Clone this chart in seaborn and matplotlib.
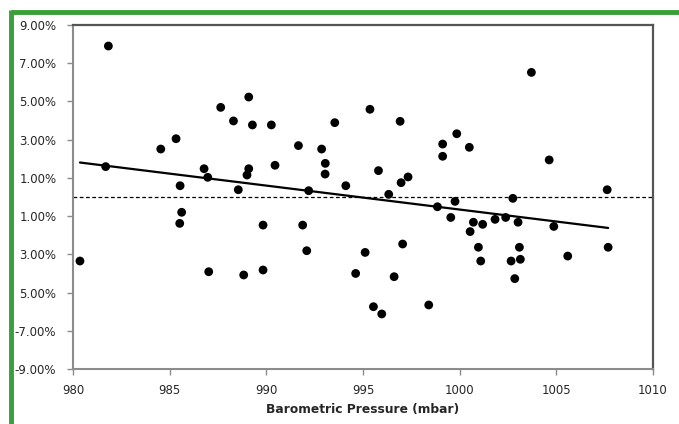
import matplotlib
matplotlib.use("Agg")
import matplotlib.pyplot as plt
import seaborn as sns
import pandas as pd
from matplotlib.lines import Line2D

pressure = [980.36, 981.69, 981.83, 984.54, 985.33, 985.54, 985.62, 985.52, 986.78, 986.97,
            987.02, 987.64, 988.30, 988.55, 988.83, 989.09, 989.28, 989.09, 989.00, 989.83,
            989.83, 990.26, 990.45, 991.66, 991.88, 992.09, 992.19, 992.86, 993.05, 993.04,
            993.54, 994.11, 994.62, 995.11, 995.36, 995.54, 995.80, 995.97, 996.33, 996.61,
            996.92, 996.97, 997.05, 997.33, 998.40, 998.85, 999.12, 999.12, 999.54, 999.76,
            999.85, 1000.50, 1000.54, 1000.71, 1000.97, 1001.09, 1001.19, 1001.83, 1002.38, 1002.66,
            1002.75, 1002.85, 1003.02, 1003.09, 1003.14, 1003.71, 1004.63, 1004.87, 1005.59, 1007.63,
            1007.68]
change_pct = [-3.35, 1.59, 7.90, 2.51, 3.05, 0.59, -0.80, -1.38, 1.48, 1.03,
              -3.91, 4.69, 3.98, 0.38, -4.08, 5.23, 3.77, 1.48, 1.15, -1.47,
              -3.82, 3.77, 1.66, 2.69, -1.47, -2.81, 0.33, 2.51, 1.76, 1.20,
              3.89, 0.59, -4.00, -2.90, 4.59, -5.74, 1.38, -6.12, 0.14, -4.17,
              3.96, 0.75, -2.46, 1.05, -5.65, -0.51, 2.77, 2.13, -1.07, -0.23,
              3.31, 2.60, -1.81, -1.32, -2.63, -3.35, -1.43, -1.17, -1.07, -3.35,
              -0.07, -4.27, -1.32, -2.63, -3.26, 6.52, 1.94, -1.54, -3.09, 0.38,
              -2.63]

x_ticks = [980, 985, 990, 995, 1000, 1005, 1010]
y_ticks = [9, 7, 5, 3, 1, -1, -3, -5, -7, -9]
y_tick_labels = ["9.00%", "7.00%", "5.00%", "3.00%", "1.00%", "1.00%", "3.00%", "5.00%", "-7.00%", "-9.00%"]
x_label = "Barometric Pressure (mbar)"

df = pd.DataFrame({"pressure": pressure, "change": change_pct})

sns.set_theme(style="white")
plt.rcParams["font.family"] = ["DejaVu Sans"]

W, H = 679, 424
fig = plt.figure(figsize=(W / 100, H / 100), dpi=100)
ax = fig.add_axes([73 / W, 1 - 369 / H, (653 - 73) / W, (369 - 25) / H])

# zero reference line
ax.axhline(0, color="black", lw=0.9, ls=(0, (3, 2)), zorder=1)

sns.regplot(data=df, x="pressure", y="change", ax=ax, scatter=False, ci=None,
            truncate=True, line_kws=dict(color="black", lw=1.6, zorder=2))
sns.scatterplot(data=df, x="pressure", y="change", ax=ax, color="black",
                s=40, edgecolor="none", zorder=3)

ax.set_xlim(980, 1010)
ax.set_ylim(-9, 9)
ax.set_xticks(x_ticks)
ax.set_xticklabels([str(t) for t in x_ticks])
ax.set_yticks(y_ticks)
ax.set_yticklabels(y_tick_labels)
ax.set_xlabel(x_label, fontsize=8.8, fontweight="bold", color="#262626", labelpad=4)
ax.set_ylabel("")

ax.tick_params(axis="both", which="major", direction="out", length=4, width=1,
               color="#8c8c8c", labelsize=8.5, labelcolor="#262626", left=True, bottom=True)
ax.tick_params(axis="y", pad=8)
ax.tick_params(axis="x", pad=7)

for side in ["left", "bottom"]:
    ax.spines[side].set_color("#8c8c8c")
    ax.spines[side].set_linewidth(1.5)
for side in ["top", "right"]:
    ax.spines[side].set_color("#555555")
    ax.spines[side].set_linewidth(1.6)
    ax.spines[side].set_visible(True)

# green frame (top and left edges)
green = "#3a9e3a"
fig.add_artist(Line2D([10.5 / W, 1.0], [1 - 12 / H, 1 - 12 / H], transform=fig.transFigure,
                      color=green, lw=3.5, solid_capstyle="butt"))
fig.add_artist(Line2D([10.5 / W, 10.5 / W], [0, 1 - 10 / H], transform=fig.transFigure,
                      color=green, lw=3.5, solid_capstyle="butt"))

fig.savefig("out.png", dpi=100)
